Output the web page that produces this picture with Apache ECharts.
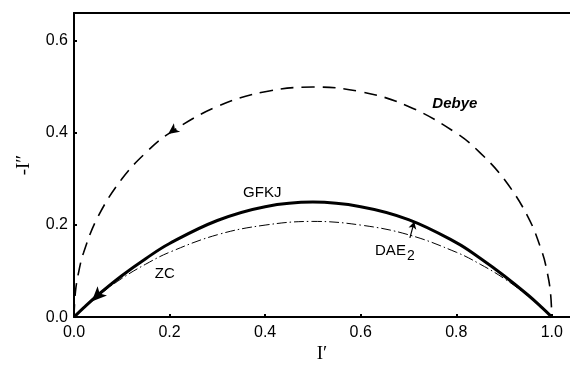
<!DOCTYPE html>
<html>
<head>
<meta charset="utf-8">
<script src="https://cdn.jsdelivr.net/npm/echarts@6/dist/echarts.min.js"></script>
<style>html,body{margin:0;padding:0;background:#fff}#c{width:570px;height:369px}</style>
</head>
<body>
<div id="c"></div>
<script>
// Tick labels
const xTicks = [0, 0.2, 0.4, 0.6, 0.8, 1.0];
const yTicks = [0, 0.2, 0.4, 0.6];

// Debye (dashed semicircle)
const debyeX = [0, 0.003, 0.01, 0.02, 0.05, 0.1, 0.15, 0.2, 0.3, 0.4, 0.5, 0.6, 0.7, 0.8, 0.85, 0.9, 0.95, 0.98, 0.99, 0.997, 1.0];
const debyeY = [0, 0.055, 0.099, 0.14, 0.218, 0.30, 0.357, 0.40, 0.458, 0.49, 0.50, 0.49, 0.458, 0.40, 0.357, 0.30, 0.218, 0.14, 0.099, 0.055, 0];

// GFKJ (thick solid)
const gfkjX = [0, 0.02, 0.05, 0.1, 0.15, 0.2, 0.3, 0.4, 0.5, 0.6, 0.7, 0.8, 0.85, 0.9, 0.95, 0.98, 1.0];
const gfkjY = [0, 0.02, 0.048, 0.09, 0.127, 0.16, 0.21, 0.24, 0.25, 0.24, 0.212, 0.162, 0.128, 0.09, 0.048, 0.02, 0];

// ZC (dash-dot)
const zcX = [0, 0.02, 0.05, 0.1, 0.15, 0.2, 0.3, 0.4, 0.5, 0.6, 0.7, 0.8, 0.85, 0.9, 0.95, 0.98, 1.0];
const zcY = [0, 0.019, 0.046, 0.084, 0.115, 0.141, 0.179, 0.200, 0.208, 0.200, 0.179, 0.141, 0.115, 0.084, 0.046, 0.019, 0];

// Direction arrows on curves (tip positions)
const arrowX = [0.197, 0.037];
const arrowY = [0.398, 0.034];
const arrowRot = [126, 135];

// Curve labels
const labelNames = ['Debye', 'GFKJ', 'ZC'];
const labelX = [0.797, 0.394, 0.19];
const labelY = [0.464, 0.271, 0.095];
const daeLabel = [0.63, 0.143];
const daePointer = [[0.703, 0.172], [0.712, 0.207]];

const zip = (xs, ys) => xs.map((x, i) => [x, ys[i]]);

const chart = echarts.init(document.getElementById('c'), null, {renderer: 'canvas'});
const black = '#000';
const tickFont = {color: black, fontSize: 16, fontFamily: 'Liberation Sans, Arial, sans-serif'};

chart.setOption({
  animation: false,
  backgroundColor: '#fff',
  grid: {left: 74, top: 13, right: 0, bottom: 44, containLabel: false},
  xAxis: [{
    type: 'value', min: 0, max: 1.038, interval: 0.2,
    name: 'I\u2032', nameLocation: 'middle', nameGap: 24,
    nameTextStyle: {color: black, fontSize: 19, fontFamily: 'Liberation Serif, serif'},
    axisLine: {show: true, onZero: false, lineStyle: {color: black, width: 2}},
    axisTick: {show: true, inside: true, length: 3, customValues: xTicks, lineStyle: {color: black, width: 2}},
    axisLabel: {customValues: xTicks, formatter: v => v.toFixed(1), margin: 7, ...tickFont},
    splitLine: {show: false}
  }, {
    type: 'value', min: 0, max: 1.038, position: 'top',
    axisLine: {show: true, onZero: false, lineStyle: {color: black, width: 2}},
    axisTick: {show: false}, axisLabel: {show: false}, splitLine: {show: false}
  }],
  yAxis: {
    type: 'value', min: 0, max: 0.661, interval: 0.2,
    name: '-I\u2033', nameLocation: 'middle', nameGap: 40, nameRotate: 90,
    nameTextStyle: {color: black, fontSize: 19, fontFamily: 'Liberation Serif, serif'},
    axisLine: {show: true, onZero: false, lineStyle: {color: black, width: 2}},
    axisTick: {show: true, inside: true, length: 3, customValues: yTicks, lineStyle: {color: black, width: 2}},
    axisLabel: {customValues: yTicks, formatter: v => v.toFixed(1), margin: 6, ...tickFont},
    splitLine: {show: false}
  },
  series: [
    {
      name: 'Debye', type: 'line', data: zip(debyeX, debyeY), smooth: 0.4, symbol: 'none',
      lineStyle: {color: black, width: 1.6, type: [13, 8]}
    },
    {
      name: 'GFKJ', type: 'line', data: zip(gfkjX, gfkjY), smooth: 0.4, symbol: 'none',
      lineStyle: {color: black, width: 3}
    },
    {
      name: 'ZC', type: 'line', data: zip(zcX, zcY), smooth: 0.4, symbol: 'none',
      lineStyle: {color: black, width: 1, type: [10, 3, 1.5, 3]},
      markLine: {
        silent: true, symbol: ['none', 'arrow'], symbolSize: [6, 7],
        label: {show: false},
        lineStyle: {color: black, width: 1.2, type: 'solid'},
        data: [[{coord: daePointer[0]}, {coord: daePointer[1]}]]
      }
    },
    {
      name: 'arrows', type: 'scatter', symbol: 'arrow', silent: true,
      itemStyle: {color: black, opacity: 1},
      data: arrowX.map((x, i) => ({value: [x, arrowY[i]], symbolRotate: arrowRot[i], symbolSize: i === 0 ? [8, 11] : [10, 15]}))
    },
    {
      name: 'labels', type: 'scatter', symbolSize: 0, silent: true,
      itemStyle: {opacity: 1},
      data: labelNames.map((n, i) => ({
        name: n, value: [labelX[i], labelY[i]],
        label: n === 'Debye' ? {fontStyle: 'italic', fontWeight: 'bold'} : {}
      })).concat([{
        name: 'DAE', value: daeLabel,
        label: {formatter: 'DAE{sub|2}', position: 'right', distance: 0,
          rich: {sub: {fontSize: 14, padding: [9, 0, 0, 1], color: black, fontFamily: 'Liberation Sans, Arial, sans-serif'}}}
      }]),
      label: {show: true, position: 'inside', formatter: '{b}', color: black, fontSize: 15,
        fontFamily: 'Liberation Sans, Arial, sans-serif'}
    }
  ]
});
</script>
</body>
</html>
